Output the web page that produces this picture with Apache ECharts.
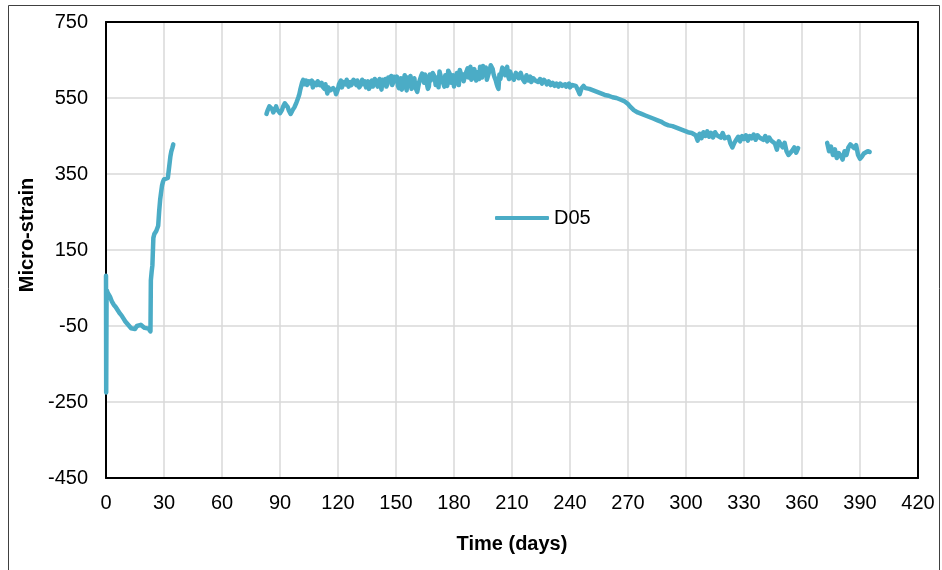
<!DOCTYPE html>
<html>
<head>
<meta charset="utf-8">
<style>
  html, body { margin: 0; padding: 0; background: #fff; }
  #chart { width: 942px; height: 570px; }
</style>
<script src="https://cdn.jsdelivr.net/npm/echarts@6/dist/echarts.min.js"></script>
</head>
<body>
<div id="chart"></div>
<script>
// D05 strain record, three logging segments (gaps between them)
const seg1Days = [0, 0.1, 0.3, 1, 2, 3, 4, 5, 6, 7, 8, 9, 10, 11, 12, 13, 14, 15, 16, 17, 18, 19, 20, 21, 22, 23,
  23.2, 23.6, 24, 24.5, 25, 26, 27, 27.5, 28, 28.5, 29, 29.5, 30, 31, 32, 33, 33.3, 33.8, 34.3, 34.8];
const seg1Vals = [82, -225, 45, 36, 28, 15, 6, 0, -8, -16, -22, -30, -38, -42, -50, -56, -52, -58, -50, -53, -47, -50, -55, -55, -57, -64,
  70, 92, 110, 182, 192, 200, 214, 252, 282, 302, 320, 330, 336, 338, 340, 342, 396, 410, 418, 428];

// daily readings, day 83 onwards
const seg2Start = 83;
const seg2Vals = [
  508, 522, 532, 520, 515, 528, 524, 510, 518, 530,
  540, 526, 516, 512, 520, 530, 545, 560, 582, 598,
  590, 584, 594, 588, 578, 590, 584, 592, 586, 580,
  574, 582, 578, 570, 566, 572, 560, 574, 584, 578,
  592, 586, 594, 578, 584, 598, 590, 596, 578, 586,
  600, 594, 582, 574, 588, 580, 600, 592, 576, 584,
  598, 590, 580, 604, 598, 584, 606, 600, 582, 590,
  572, 584, 596, 604, 588, 574, 586, 578, 566, 592,
  608, 600, 612, 586, 580, 596, 616, 606, 590, 578,
  610, 600, 580, 590, 622, 612, 596, 580, 604, 618,
  624, 606, 594, 614, 628, 616, 598, 608, 630, 618,
  600, 624, 634, 612, 598, 616, 636, 626, 604, 588,
  574, 600, 630, 618, 626, 608, 620, 606, 598, 616,
  610, 598, 612, 604, 596, 606, 600, 592, 602, 596,
  600, 592, 598, 590, 596, 586, 594, 584, 590, 582,
  588, 580, 588, 582, 586, 580, 584, 578, 584, 580,
  582, 572, 560, 576, 582, 576, 580, 574, 578, 570,
  572, 566, 568, 562, 566, 558, 562, 556, 558, 552,
  556, 550, 552, 546, 548, 542, 540, 534, 528, 524,
  518, 516, 512, 514, 508, 510, 504, 506, 500, 502,
  496, 498, 492, 494, 488, 486, 482, 484, 478, 480,
  476, 478, 472, 474, 468, 470, 464, 466, 460, 464,
  458, 460, 452, 438, 456, 444, 460, 450, 462, 448,
  458, 446, 460, 452, 456, 446, 458, 444, 440, 448,
  430, 420, 432, 440, 448, 436, 450, 442, 452, 438,
  450, 444, 454, 440, 452, 446, 448, 440, 450, 436,
  446, 438, 440, 430, 414, 436, 440, 420, 432, 410,
  400, 396, 412, 420, 406, 418
];

// extra mid-day readings (day 83.5 .. 239.5), the noisy part of the record
const seg2MidStart = 83.5;
const seg2MidVals = [
  516, 528, 524, 512, 522, 520, 516, 514, 526, 536, 534, 518, 508, 518, 526, 538, 552,
  572, 592, 586, 596, 580, 592, 596, 580, 588, 594,
  584, 590, 580, 586, 562, 578, 568, 576, 570, 566,
  586, 596, 574, 588, 598, 580, 592, 582, 600, 584,
  592, 578, 598, 586, 578, 594, 572, 596, 586, 604,
  580, 600, 572, 594, 600, 586, 594, 608, 590, 596,
  606, 576, 602, 580, 610, 570, 598, 608, 580, 602,
  578, 570, 596, 614, 590, 604, 574, 612, 592, 618,
  584, 604, 620, 596, 588, 610, 582, 626, 590, 610,
  594, 616, 584, 628, 612, 592, 620, 604, 632, 600,
  626, 596, 614, 632, 604, 620, 630, 602, 624, 640,
  612, 598, 580, 612, 618, 628, 610, 632, 600, 612,
  608, 600, 614, 602, 616, 600, 592, 610, 596, 606,
  590, 604, 596, 592, 600, 588, 598, 592, 584, 596,
  588, 592, 580, 590, 578, 592, 582, 586, 576, 588
];

const seg3Start = 373;
const seg3Vals = [432, 410, 422, 400, 415, 392, 405, 398, 388, 410, 400, 420, 428, 430, 418, 426, 400, 390, 396, 404, 400, 410, 408];

const yTicks = [-450, -250, -50, 150, 350, 550, 750];

const font = 'Liberation Sans, Arial, sans-serif';

const data = [];
seg1Days.forEach((d, i) => data.push([d, seg1Vals[i]]));
data.push([seg1Days[seg1Days.length - 1] + 1, '-']);
seg2Vals.forEach((v, i) => {
  data.push([seg2Start + i, v]);
  const mid = seg2MidVals[seg2Start + i + 0.5 - seg2MidStart];
  if (mid !== undefined) data.push([seg2Start + i + 0.5, mid]);
});
data.push([seg2Start + seg2Vals.length, '-']);
seg3Vals.forEach((v, i) => data.push([seg3Start + i, v]));

const frameLine = { show: true, onZero: false, lineStyle: { color: '#000', width: 2 } };

const chart = echarts.init(document.getElementById('chart'), null, { renderer: 'canvas' });
chart.setOption({
  animation: false,
  backgroundColor: '#fff',
  textStyle: { fontFamily: font, color: '#000' },
  graphic: [{
    type: 'rect',
    shape: { x: 8.5, y: 5.5, width: 931, height: 570 },
    style: { fill: 'none', stroke: '#404040', lineWidth: 1 },
    silent: true
  }],
  grid: { left: 106, top: 22, right: 24, bottom: 92 },
  legend: {
    data: ['D05'],
    left: 490, top: 203,
    icon: 'roundRect',
    itemWidth: 54, itemHeight: 4, itemGap: 4,
    textStyle: { fontFamily: font, fontSize: 20, color: '#000' }
  },
  xAxis: [{
    type: 'value',
    min: 0, max: 420, interval: 30,
    name: 'Time (days)',
    nameLocation: 'middle',
    nameGap: 56,
    nameTextStyle: { fontFamily: font, fontSize: 20, fontWeight: 'bold', color: '#000' },
    axisLine: frameLine,
    axisTick: { show: false },
    axisLabel: { fontFamily: font, fontSize: 20, color: '#000', margin: 15 },
    splitLine: { show: true, lineStyle: { color: '#d9d9d9', width: 1.5 } }
  }, {
    type: 'value', position: 'top',
    min: 0, max: 420, interval: 30,
    axisLine: frameLine,
    axisTick: { show: false }, axisLabel: { show: false }, splitLine: { show: false }
  }],
  yAxis: [{
    type: 'value',
    min: -450, max: 750,
    name: 'Micro-strain',
    nameLocation: 'middle',
    nameGap: 68,
    nameTextStyle: { fontFamily: font, fontSize: 20, fontWeight: 'bold', color: '#000', padding: [0, 0, 0, 30] },
    axisLine: frameLine,
    axisTick: { show: false, customValues: yTicks },
    axisLabel: { fontFamily: font, fontSize: 20, color: '#000', margin: 18, customValues: yTicks },
    splitLine: { show: true, lineStyle: { color: '#d9d9d9', width: 1.5 } }
  }, {
    type: 'value', position: 'right',
    min: -450, max: 750,
    axisLine: frameLine,
    axisTick: { show: false }, axisLabel: { show: false }, splitLine: { show: false }
  }],
  series: [{
    name: 'D05',
    type: 'line',
    data: data,
    showSymbol: false,
    connectNulls: false,
    color: '#4bacc6',
    lineStyle: { color: '#4bacc6', width: 4.5, join: 'round', cap: 'round' }
  }]
});
</script>
</body>
</html>
